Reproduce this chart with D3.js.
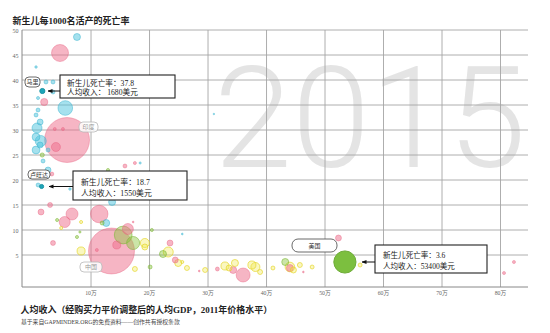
<!DOCTYPE html>
<html><head><meta charset="utf-8">
<script src="https://cdn.jsdelivr.net/npm/d3@7"></script>
<style>body{margin:0;background:#fff}svg{display:block}</style>
</head><body>
<svg id="c" width="550" height="333"></svg>
<script>
// ---- data ----
const yTicks = [5, 10, 15, 20, 25, 30, 35, 40, 45, 50];
const xTicks = [10000, 20000, 30000, 40000, 50000, 60000, 70000, 80000];
const xTickLabels = ["10万", "20万", "30万", "40万", "50万", "60万", "70万", "80万"];
const yearLabel = "2015";

// [income, neonatal mortality rate, population (millions)]
const africa = [
  [7600, 48.6, 32], [600, 42.6, 4], [2300, 39.6, 10], [3500, 39.6, 10], [3500, 37.6, 10],
  [5600, 34.4, 140], [940, 36.4, 6], [1300, 31.6, 23], [770, 30.4, 65], [600, 28.6, 40],
  [1400, 27.8, 80], [600, 26, 40], [1300, 27, 23], [2650, 26, 10], [1800, 23.8, 10],
  [950, 19, 10], [6400, 18.2, 4], [13600, 15.6, 32], [12600, 11.4, 32], [18400, 23.4, 3],
  [31000, 33.2, 1.5], [25600, 9.2, 2], [2650, 22, 23], [2100, 21.2, 16], [600, 33, 10], [940, 34, 10]
];
const asia = [
  [4700, 45.4, 188], [2000, 35.6, 34], [5900, 28, 1310], [4000, 26.6, 53], [3800, 30.2, 6],
  [5200, 30.2, 6], [3300, 21.2, 10], [15800, 22.8, 10], [17500, 23.4, 6], [3000, 15, 16],
  [1450, 13.6, 23], [6750, 13.2, 94], [5500, 11.6, 80], [3500, 7.4, 16], [11400, 13.2, 200],
  [11000, 6, 6], [13500, 5.8, 1370], [16300, 10.2, 79], [14400, 7, 42], [17200, 11.6, 2],
  [23500, 7.4, 23], [24400, 4, 23], [28500, 1.8, 2], [31600, 2.2, 10], [34300, 2, 32],
  [36000, 1, 127], [44000, 2.4, 32], [46300, 1.6, 2], [52300, 8.4, 23], [80600, 1.4, 6], [82300, 3.6, 6]
];
const americas = [
  [1660, 25, 11], [15500, 9, 205], [17200, 7.4, 110], [20400, 10, 6], [22300, 5.2, 32],
  [20100, 2.6, 10], [43200, 3.6, 32], [12900, 22, 6], [11900, 11.4, 10], [4200, 12, 6],
  [7600, 8.6, 6], [8100, 9.6, 3]
];
const europe = [
  [8300, 5.8, 42], [19200, 7.4, 53], [19200, 6.6, 23], [23200, 5.6, 65], [24900, 3.4, 32],
  [26400, 2.4, 16], [17500, 2.2, 16], [29500, 2, 16], [32900, 2.8, 42], [33600, 2.4, 23],
  [25600, 3.6, 6], [37500, 3, 42], [38100, 2.6, 53], [38900, 1.6, 16], [34600, 3.4, 32],
  [41100, 2.4, 10], [44000, 2.6, 60], [44600, 2, 23], [45700, 3, 16], [47800, 2.6, 10],
  [56000, 3, 10], [8300, 11.6, 6], [4900, 10.4, 6]
];
// highlighted countries: [name, income, rate, population]
const highlights = [
  ["马里", 1680, 37.8, 17], ["卢旺达", 1550, 18.7, 11], ["美国", 53400, 3.6, 320]
];
const plainLabels = [["印度", 5900, 28], ["中国", 13500, 5.8]];

// ---- drawing ----
const svg = d3.select("#c");
const x = d3.scaleLinear().domain([-1800, 84700]).range([22, 528]);
const y = d3.scaleLinear().domain([-1.4, 50]).range([287, 30]);
const r = d3.scaleSqrt().domain([0, 1400]).range([0, 23.2]);
const CJK = "Liberation Serif, Noto Sans CJK SC, serif";

function fit(sel, target) {
  const len = sel.node().getComputedTextLength();
  const fs = +sel.attr("font-size");
  if (len > 0) sel.attr("font-size", fs * target / len);
  return sel;
}

// big year watermark
fit(svg.append("text").attr("x", 214).attr("y", 167)
  .attr("font-family", "Roboto").attr("font-weight", 300).attr("font-size", 143)
  .attr("fill", "#e4e4e4").text(yearLabel), 312);

// grid
const g = svg.append("g");
g.selectAll(".h").data(yTicks).join("line")
  .attr("x1", 22).attr("x2", 528).attr("y1", d => y(d)).attr("y2", d => y(d))
  .attr("stroke", "#a5a5a5").attr("stroke-width", 0.9);
g.selectAll(".v").data(xTicks).join("line")
  .attr("y1", 30).attr("y2", 287).attr("x1", d => x(d)).attr("x2", d => x(d))
  .attr("stroke", "#a5a5a5").attr("stroke-width", 0.9);
g.append("line").attr("x1", 22).attr("x2", 22).attr("y1", 30).attr("y2", 287).attr("stroke", "#888");
g.append("line").attr("x1", 22).attr("x2", 528).attr("y1", 287).attr("y2", 287).attr("stroke", "#888");

// tick labels
svg.selectAll(".yl").data(yTicks).join("text")
  .attr("x", 18.5).attr("y", d => y(d) + 2.5).attr("text-anchor", "end")
  .attr("font-family", CJK).attr("font-size", 6).attr("fill", "#666").text(d => d);
svg.selectAll(".xl").data(xTicks).join("text")
  .attr("x", d => x(d)).attr("y", 295).attr("text-anchor", "middle")
  .attr("font-family", CJK).attr("font-size", 5.8).attr("fill", "#666")
  .text((d, i) => xTickLabels[i]);

// bubbles
const styles = {
  africa: {fill: "#4cc4dd", fo: 0.5, stroke: "#39b3ce", so: 0.6},
  asia: {fill: "#ee6b89", fo: 0.5, stroke: "#e85c7c", so: 0.5},
  americas: {fill: "#8cc63f", fo: 0.45, stroke: "#7ab534", so: 0.7},
  europe: {fill: "#f2e84a", fo: 0.35, stroke: "#e4d52a", so: 0.85}
};
const all = [];
[["africa", africa], ["asia", asia], ["americas", americas], ["europe", europe]].forEach(([k, arr]) =>
  arr.forEach(d => all.push({region: k, income: d[0], rate: d[1], pop: d[2]})));
all.sort((a, b) => b.pop - a.pop);
svg.append("g").selectAll("circle").data(all).join("circle")
  .attr("cx", d => x(d.income)).attr("cy", d => y(d.rate)).attr("r", d => r(d.pop))
  .attr("fill", d => styles[d.region].fill).attr("fill-opacity", d => styles[d.region].fo)
  .attr("stroke", d => styles[d.region].stroke).attr("stroke-opacity", d => styles[d.region].so)
  .attr("stroke-width", 0.8);

// highlighted bubbles
const hColors = ["#1ea5b8", "#1ea5b8", "#7cbf3f"];
svg.append("g").selectAll("circle").data(highlights).join("circle")
  .attr("cx", d => x(d[1])).attr("cy", d => y(d[2])).attr("r", d => r(d[3]))
  .attr("fill", (d, i) => hColors[i]).attr("stroke", (d, i) => d3.color(hColors[i]).darker(0.3));

// faint labels (India, China)
const plainBoxes = [[79, 122, 19, 10], [80, 262, 22, 10]];
plainLabels.forEach((d, i) => {
  const b = plainBoxes[i];
  svg.append("rect").attr("x", b[0]).attr("y", b[1]).attr("width", b[2]).attr("height", b[3])
    .attr("rx", 4).attr("fill", "#fff").attr("fill-opacity", 0.85).attr("stroke", "#b8b8b8").attr("stroke-width", 0.8);
  svg.append("text").attr("x", b[0] + b[2] / 2).attr("y", b[1] + b[3] / 2 + 2.2)
    .attr("text-anchor", "middle").attr("font-family", CJK).attr("font-size", 6).attr("fill", "#999").text(d[0]);
});

// highlight name boxes
const nameBoxes = [[25, 77, 15, 10], [28, 170, 22, 9], [292, 239, 45, 13]];
highlights.forEach((d, i) => {
  const b = nameBoxes[i];
  svg.append("rect").attr("x", b[0]).attr("y", b[1]).attr("width", b[2]).attr("height", b[3])
    .attr("rx", i === 2 ? 6 : 4).attr("fill", "#fff").attr("stroke", "#444").attr("stroke-width", 0.8);
  svg.append("text").attr("x", b[0] + b[2] / 2).attr("y", b[1] + b[3] / 2 + 2.2)
    .attr("text-anchor", "middle").attr("font-family", CJK).attr("font-size", 6).attr("fill", "#333").text(d[0]);
});

// callouts
svg.append("defs").append("marker").attr("id", "ah").attr("viewBox", "0 0 10 10")
  .attr("refX", 9).attr("refY", 5).attr("markerWidth", 5).attr("markerHeight", 5).attr("orient", "auto")
  .append("path").attr("d", "M0,1L10,5L0,9Z").attr("fill", "#111");
// box x, y, w, h, text x, line-2 width target
const callBoxes = [[60, 75, 115, 23, 67, 71], [73, 171, 114, 29, 81, 71], [375, 245, 112, 28, 383, 72]];
const arrowEnds = [48, 49, 362];
const incomeText = ["1680", "1550", "53400"];
highlights.forEach((d, i) => {
  const b = callBoxes[i];
  svg.append("rect").attr("x", b[0]).attr("y", b[1]).attr("width", b[2]).attr("height", b[3])
    .attr("fill", "#fff").attr("stroke", "#222").attr("stroke-width", 1.1);
  const t2 = svg.append("text").attr("x", b[4]).attr("font-family", CJK).attr("font-size", 8).attr("fill", "#222")
    .text("人均收入：" + (i === 0 ? " " : "") + incomeText[i] + "美元");
  fit(t2, b[5]);
  const fs = +t2.attr("font-size");
  t2.attr("y", b[1] + b[3] * 0.75 + fs * 0.36);
  svg.append("text").attr("x", b[4]).attr("y", b[1] + b[3] * 0.37 + fs * 0.36)
    .attr("font-family", CJK).attr("font-size", fs).attr("fill", "#222")
    .text("新生儿死亡率：" + d[2]);
  const ay = y(d[2]);
  svg.append("line").attr("x1", b[0]).attr("x2", arrowEnds[i]).attr("y1", ay).attr("y2", ay)
    .attr("stroke", "#111").attr("stroke-width", 1).attr("marker-end", "url(#ah)");
});

// titles
const t1 = svg.append("text").attr("x", 12.5)
  .attr("font-family", CJK).attr("font-weight", "bold").attr("font-size", 10.5).attr("fill", "#222")
  .text("新生儿每1000名活产的死亡率");
fit(t1, 117);
t1.attr("y", 21 + +t1.attr("font-size") * 0.38);
const t2 = svg.append("text").attr("x", 20.5)
  .attr("font-family", CJK).attr("font-weight", "bold").attr("font-size", 9.6).attr("fill", "#222")
  .text("人均收入（经购买力平价调整后的人均GDP，2011年价格水平）");
fit(t2, 252);
t2.attr("y", 310 + +t2.attr("font-size") * 0.38);
const t3 = svg.append("text").attr("x", 21)
  .attr("font-family", CJK).attr("font-size", 5.8).attr("fill", "#444")
  .text("基于来自GAPMINDER.ORG的免费资料——创作共有授权条款");
fit(t3, 159);
t3.attr("y", 322 + +t3.attr("font-size") * 0.38);
</script>
</body></html>
